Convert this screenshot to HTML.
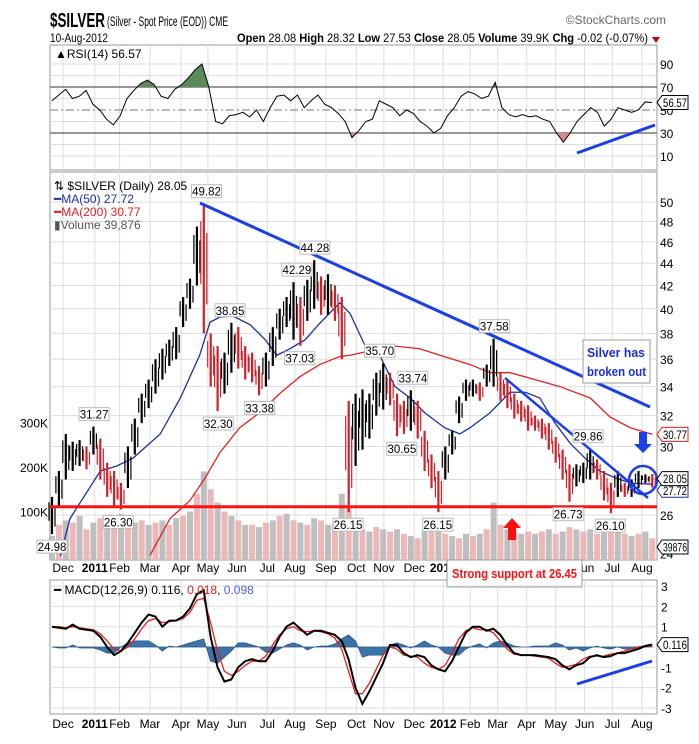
<!DOCTYPE html>
<html><head><meta charset="utf-8"><style>
body{margin:0;background:#fff;}
svg{display:block;font-family:"Liberation Sans Narrow","Liberation Sans",sans-serif;}
</style></head><body>
<svg id="c" width="699" height="744" viewBox="0 0 699 744" xmlns="http://www.w3.org/2000/svg">
<rect x="0" y="0" width="699" height="744" fill="#fff"/>
<text x="50" y="27" font-size="20" font-weight="bold" textLength="55" lengthAdjust="spacingAndGlyphs">$SILVER</text>
<text x="107" y="26" font-size="14" textLength="121" lengthAdjust="spacingAndGlyphs">(Silver - Spot Price (EOD)) CME</text>
<text x="666" y="24" font-size="12" fill="#666" text-anchor="end">©StockCharts.com</text>
<text x="50" y="42" font-size="12" textLength="58" lengthAdjust="spacingAndGlyphs">10-Aug-2012</text>
<text x="237" y="42" font-size="12" textLength="411" lengthAdjust="spacingAndGlyphs"><tspan font-weight="bold">Open</tspan> 28.08 <tspan font-weight="bold">High</tspan> 28.32 <tspan font-weight="bold">Low</tspan> 27.53 <tspan font-weight="bold">Close</tspan> 28.05 <tspan font-weight="bold">Volume</tspan> 39.9K <tspan font-weight="bold">Chg</tspan> -0.02 (-0.07%)</text>
<polygon points="652,37 660,37 656,43" fill="#c00"/>
<g id="g"></g>
</svg>
<script>
const highs=[27.0,28.5,30.8,30.3,30.4,30.0,31.27,30.5,29.0,28.5,27.8,30.0,31.8,33.5,34.5,36.0,36.8,37.5,38.5,41.0,42.6,47.5,49.82,38.0,37.0,36.5,38.85,38.5,37.0,36.5,35.5,36.5,38.5,40.0,41.0,42.29,41.0,42.5,44.28,42.8,43.0,42.0,41.0,33.0,33.5,33.8,33.5,35.0,35.70,35.0,33.5,33.0,33.74,33.0,31.0,29.5,28.5,30.0,31.0,33.3,34.5,34.5,34.3,35.6,37.58,35.0,34.5,33.5,33.0,32.7,32.0,31.8,31.5,30.6,29.8,28.9,28.9,29.0,29.86,29.2,28.5,27.8,28.5,27.8,28.0,28.5,28.3,28.32];
const lows=[24.98,26.5,28.0,28.5,28.8,28.6,29.5,28.0,27.0,26.5,26.30,27.5,29.5,31.5,32.5,33.5,34.5,35.5,36.0,38.5,40.0,42.0,38.0,34.0,32.30,33.5,35.0,35.3,34.5,34.3,33.38,34.0,35.5,37.5,38.5,37.5,37.03,39.0,40.0,39.5,39.5,39.0,36.0,26.15,28.8,29.8,30.5,32.0,32.4,32.7,30.65,30.8,31.0,30.5,28.5,27.5,26.15,28.0,29.5,31.5,33.0,33.3,33.0,34.0,34.0,33.0,32.5,31.8,31.6,31.0,31.0,30.5,29.8,29.0,28.0,26.73,27.6,27.8,28.0,28.0,26.8,26.10,27.0,27.0,27.0,27.5,27.8,27.53];
const volumes=[45,70,80,75,90,60,75,85,80,70,95,85,75,80,70,75,80,70,85,90,100,140,190,150,120,100,90,80,70,70,65,75,80,90,95,80,75,70,85,80,70,75,140,110,70,60,55,65,60,55,60,50,45,40,55,60,70,50,45,40,50,45,50,60,120,70,60,55,50,55,50,55,60,50,55,65,60,55,60,50,55,65,60,50,45,50,55,40];
const maWeeks=[2.6,7,9.4,11.8,15.7,18.6,21.4,22.9,24.3,26.2,28.7,30.9,32.6,34.5,36.7,38.8,41.7,43.2,45.4,47.5,49.7,51.9,54,56.9,59.1,60.6,63.5,66.4,68.6,70.7,72.9,75.1,77.2,79.4,81.6,83.8,87];
const ma50=[25.8,28.5,28.8,29.3,30.8,33.2,36.3,38.9,39.3,39.4,38.7,37.5,36.3,36.8,37.5,38.8,40.5,39.6,37.0,36.3,34.0,33.2,32.2,31.2,30.8,31.2,32.2,33.6,33.6,33.2,31.5,30.2,29.3,28.5,28.1,27.8,27.72];
const ma200Weeks=[14.2,17.1,20,22.2,24.3,27.2,30.1,33,35.9,38.8,41.7,43.2,47.5,49.7,53.3,56.2,60.6,63.5,66.4,69.3,73.6,78,80.9,83.8,87];
const ma200=[23.9,25.8,26.8,28.1,29.6,31.2,32.2,33.5,34.7,35.6,36.2,36.3,36.8,37.0,36.8,36.3,35.6,35.0,35.0,34.6,34.0,33.2,31.9,31.2,30.77];
const rsi=[58,63,68,60,62,67,55,50,42,37,45,60,67,73,76,72,62,60,68,72,78,85,90,70,40,38,45,46,48,44,50,40,52,62,63,58,63,52,58,63,55,52,47,40,26,32,40,42,58,55,52,45,50,47,40,36,30,34,45,52,62,66,64,60,62,74,52,46,44,46,44,45,42,40,30,22,30,40,46,52,48,36,42,52,50,48,50,57,56.57];
const macd=[1.0,0.95,0.9,1.1,0.9,0.85,0.8,0.5,0,-0.4,-0.2,0.2,0.7,1.2,1.6,1.5,1.0,1.3,1.3,1.5,1.9,2.6,2.8,0.5,-1.0,-1.7,-1.6,-1.0,-0.7,-0.6,-0.7,-0.7,-0.2,0.5,1.0,1.2,0.9,0.6,0.8,0.8,0.7,0.6,0.3,-0.6,-2.0,-2.8,-2.2,-1.5,-0.8,0.1,0.1,-0.3,-0.5,-0.4,-0.5,-0.9,-1.1,-1.2,-0.7,0.0,0.7,1.0,1.0,0.8,0.9,0.6,0.1,-0.3,-0.4,-0.4,-0.4,-0.45,-0.5,-0.6,-0.9,-1.1,-0.9,-0.8,-0.5,-0.4,-0.5,-0.45,-0.3,-0.3,-0.2,-0.1,0.05,0.116];
const signal=[1.0,1.0,0.95,1.0,0.95,0.9,0.85,0.65,0.3,-0.1,-0.2,0.0,0.4,0.9,1.3,1.4,1.2,1.25,1.3,1.4,1.7,2.3,2.4,1.2,-0.2,-1.2,-1.4,-1.2,-0.9,-0.7,-0.7,-0.45,0.1,0.6,0.9,1.0,0.8,0.75,0.8,0.75,0.65,0.45,-0.1,-1.2,-2.3,-2.3,-1.8,-1.1,-0.4,0.0,-0.1,-0.4,-0.45,-0.5,-0.8,-1.0,-1.1,-0.9,-0.3,0.4,0.8,0.95,0.85,0.85,0.7,0.3,-0.1,-0.35,-0.4,-0.4,-0.45,-0.5,-0.55,-0.8,-1.0,-0.95,-0.85,-0.6,-0.45,-0.45,-0.45,-0.35,-0.3,-0.2,-0.1,0.0,0.05,0.018];
const monthLabels=["Dec","2011","Feb","Mar","Apr","May","Jun","Jul","Aug","Sep","Oct","Nov","Dec","2012","Feb","Mar","Apr","May","Jun","Jul","Aug"];
const monthWeeks=[1.6,6.2,9.8,14.2,18.7,22.6,26.8,31.2,35.2,39.7,44.1,48.1,52.5,56.7,60.6,64.6,68.8,73,77.2,81.2,85.5];
const priceTicks=[24,26,28,30,32,34,36,38,40,42,44,46,48,50];
const volTicks=[100,200,300];
const rsiTicks=[10,30,50,70,90];
const macdTicks=[-3,-2,-1,0,1,2,3];
const highCallouts=[[49.82,22.4],[31.27,6.1],[38.85,25.8],[42.29,35.5],[44.28,38.1],[35.70,47.5],[33.74,52.3],[37.58,64.1],[29.86,77.7]];
const lowCallouts=[[24.98,0],[26.30,9.6],[32.30,24.1],[33.38,30.1],[37.03,35.9],[26.15,42.9],[30.65,50.7],[26.15,55.9],[26.73,74.8],[26.10,80.9]];

const NS="http://www.w3.org/2000/svg";
const G=document.getElementById('g');
function mk(tag,attrs,parent){const e=document.createElementNS(NS,tag);for(const k in attrs)e.setAttribute(k,attrs[k]);(parent||G).appendChild(e);return e;}
const L=50,R=657;
const xW=w=>52+w*6.9;
const yP=p=>202+(Math.log(50)-Math.log(p))*478.6;
const yV=k=>556-k*0.445;
const yR=v=>133-(v-30)*1.15;
const yM=v=>647-v*20.3;
const xI=(i,n)=>52+i*(600/(n-1));

[[45,170,'rsi-panel'],[172,560,'price-panel'],[580,714,'macd-panel']].forEach(p=>{
  const r=mk('rect',{x:L,y:p[0],width:R-L,height:p[1]-p[0],fill:'#fff',stroke:'#999'});
  
  
  monthWeeks.forEach(w=>{const l=mk('line',{x1:xW(w),x2:xW(w),y1:p[0],y2:p[1],stroke:'#ddd'});
    
    });
});
for(let v=10;v<=90;v+=10){const l=mk('line',{x1:L,x2:R,y1:yR(v),y2:yR(v),stroke:(v==30||v==70)?'#777':'#ddd','stroke-width':(v==30||v==70)?1.5:1});
  if(v==50){l.setAttribute('stroke','#777');l.setAttribute('stroke-dasharray','8,3,2,3');}
  
  }
rsiTicks.forEach(v=>{const t=mk('text',{x:R+3,y:yR(v)+5,'font-size':12});t.textContent=v;
  
  });
const defs=mk('defs',{});
const c1=mk('clipPath',{id:'ab'},defs);mk('rect',{x:L,y:45,width:R-L,height:yR(70)-45},c1);
const c2=mk('clipPath',{id:'be'},defs);mk('rect',{x:L,y:yR(30),width:R-L,height:170-yR(30)},c2);
let rp=rsi.map((v,i)=>xI(i,rsi.length)+','+yR(v)).join(' ');
const fa=mk('polygon',{points:xI(0,rsi.length)+','+yR(70)+' '+rp+' '+xI(rsi.length-1,rsi.length)+','+yR(70),fill:'#5a8a5a','clip-path':'url(#ab)'});


const fb=mk('polygon',{points:xI(0,rsi.length)+','+yR(30)+' '+rp+' '+xI(rsi.length-1,rsi.length)+','+yR(30),fill:'#d88','clip-path':'url(#be)'});


const rl=mk('polyline',{points:rp,fill:'none',stroke:'#000','stroke-width':1});


const rt=mk('text',{x:55,y:58,'font-size':12});rt.textContent='▲RSI(14) 56.57';


const rtl=mk('line',{x1:577,y1:153,x2:655,y2:125,stroke:'#1a3ee8','stroke-width':3});



priceTicks.forEach(p=>{const l=mk('line',{x1:L,x2:R,y1:yP(p),y2:yP(p),stroke:'#ddd'});
  
  
  if(p==28)return;
  const t=mk('text',{x:R+3,y:yP(p)+5,'font-size':12});t.textContent=p;
  
  });
volTicks.forEach(k=>{const t=mk('text',{x:L-2,y:yV(k)+5,'font-size':12,'text-anchor':'end'});t.textContent=k+'K';
  
  });
volumes.forEach((k,i)=>{const r=mk('rect',{x:xW(i)-3,y:yV(k),width:6,height:yV(0)-yV(k)+4,fill:i%2?'#eab0b0':'#b8b8b8',opacity:0.9});
  
  });
const m2=mk('polyline',{points:ma200.map((v,i)=>xW(ma200Weeks[i])+','+Math.min(556,yP(v))).join(' '),fill:'none',stroke:'#e52020','stroke-width':1.3});


const m1=mk('polyline',{points:xW(1.2)+','+556+' '+ma50.map((v,i)=>xW(maWeeks[i])+','+yP(v)).join(' '),fill:'none',stroke:'#2030a0','stroke-width':1.3});


highs.forEach((h,i)=>{const lo=lows[i];const mid=(h+lo)/2;const pm=i?(highs[i-1]+lows[i-1])/2:mid;
  const col=mid<pm?'#d0202a':'#000';
  const b=mk('line',{x1:xW(i),x2:xW(i),y1:yP(h),y2:yP(lo),stroke:col,'stroke-width':2.2});
  
  
  const b2=mk('line',{x1:xW(i)+3,x2:xW(i)+3,y1:yP(h-(h-lo)*0.25),y2:yP(lo+(h-lo)*0.2),stroke:col,'stroke-width':1.2});
  
  
  const b3=mk('line',{x1:xW(i)-3,x2:xW(i)-3,y1:yP(h-(h-lo)*0.15),y2:yP(lo+(h-lo)*0.35),stroke:col,'stroke-width':1.2});
  
  });
const sl=mk('line',{x1:L,x2:R,y1:yP(26.45),y2:yP(26.45),stroke:'#ff1010','stroke-width':3});


const t1=mk('line',{x1:200,y1:203,x2:650,y2:407,stroke:'#1a3ee8','stroke-width':3});


const t2=mk('line',{x1:505,y1:378,x2:648,y2:498,stroke:'#1a3ee8','stroke-width':2.5});


function callout(v,w,above){const x=xW(w);const y=yP(v);const s=v.toFixed(2);
  const by=above?y-19:y+6;
  const g=mk('g',{});
  
  
  mk('rect',{x:x-15,y:by,width:30,height:13,fill:'#fff',stroke:'#bbb'},g);
  const t=mk('text',{x:x,y:by+11,'font-size':11.5,'text-anchor':'middle'},g);t.textContent=s;}
highCallouts.forEach(c=>callout(c[0],c[1],true));
lowCallouts.forEach(c=>callout(c[0],c[1],false));
[['⇅ $SILVER (Daily) 28.05','#000',190,'price-legend'],['━MA(50) 27.72','#2030a0',203,'ma50-legend'],['━MA(200) 30.77','#e52020',216,'ma200-legend'],['▮Volume 39,876','#555',229,'volume-legend']].forEach(a=>{
  const t=mk('text',{x:54,y:a[2],'font-size':12,fill:a[1]});t.textContent=a[0];
  
  });
const ab=mk('g',{});


mk('rect',{x:583,y:340,width:67,height:43,fill:'#fff',stroke:'#999'},ab);
let t=mk('text',{x:587,y:357,'font-size':13,'font-weight':'bold',fill:'#1a2ee0','textLength':58,'lengthAdjust':'spacingAndGlyphs'},ab);t.textContent='Silver has';
t=mk('text',{x:587,y:376,'font-size':13,'font-weight':'bold',fill:'#1a2ee0','textLength':59,'lengthAdjust':'spacingAndGlyphs'},ab);t.textContent='broken out';
const da=mk('polygon',{points:'639,432 647,432 647,444 652,444 643,453 634,444 639,444',fill:'#1a3ee8'});


const ci=mk('circle',{cx:643,cy:480,r:14,fill:'none',stroke:'#1a3ee8','stroke-width':2.5});


const ua=mk('polygon',{points:'508,540 516,540 516,528 521,528 512,518 503,528 508,528',fill:'#ff1010'});


function rbox(y,txt,col,name){const g=mk('g',{});
  
  
  mk('polygon',{points:`${R},${y} ${R+5},${y-7} ${R+31},${y-7} ${R+31},${y+7} ${R+5},${y+7}`,fill:'#fff',stroke:col},g);
  const t=mk('text',{x:R+6,y:y+4.5,'font-size':12,'textLength':24,'lengthAdjust':'spacingAndGlyphs',fill:'#000'},g);t.textContent=txt;}
rbox(yR(56.57),'56.57','#000','rsi-value-box');
rbox(yP(27.72)+6,'27.72','#2030a0','ma50-value-box');
rbox(yP(30.77),'30.77','#e52020','ma200-value-box');
rbox(yP(28.05),'28.05','#000','price-value-box');
rbox(547,'39876','#000','volume-value-box');
rbox(yM(0.116),'0.116','#000','macd-value-box');
[572,728].forEach(y=>monthLabels.forEach((m,i)=>{const tx=mk('text',{x:xW(monthWeeks[i]),y:y,'font-size':12,'text-anchor':'middle','font-weight':m.length==4?'bold':'normal'});tx.textContent=m;
  
  }));
const sb=mk('g',{});


mk('rect',{x:447,y:560,width:135,height:27,fill:'#fff',stroke:'#999'},sb);
t=mk('text',{x:452,y:578,'font-size':13,'font-weight':'bold',fill:'#ff1010','textLength':125,'lengthAdjust':'spacingAndGlyphs'},sb);t.textContent='Strong support at 26.45';
macdTicks.forEach(v=>{const l=mk('line',{x1:L,x2:R,y1:yM(v),y2:yM(v),stroke:'#ddd'});
  
  
  if(v==0)return;
  const tx=mk('text',{x:R+4,y:yM(v)+5,'font-size':12});tx.textContent=v;
  
  });
const hp=macd.map((v,i)=>xI(i,macd.length)+','+yM(v-signal[i])).join(' ');
const hi=mk('polygon',{points:xI(0,macd.length)+','+yM(0)+' '+hp+' '+xI(macd.length-1,macd.length)+','+yM(0),fill:'#3a74a8',stroke:'#2a5a90','stroke-width':0.8});


const sg=mk('polyline',{points:signal.map((v,i)=>xI(i,signal.length)+','+yM(v)).join(' '),fill:'none',stroke:'#e52020','stroke-width':1.3});


const ml=mk('polyline',{points:macd.map((v,i)=>xI(i,macd.length)+','+yM(v)).join(' '),fill:'none',stroke:'#000','stroke-width':2});


const mt=mk('text',{x:54,y:594,'font-size':12});
mt.innerHTML='━ MACD(12,26,9) 0.116, <tspan fill="#e52020">0.018</tspan>, <tspan fill="#5060e0">0.098</tspan>';


const mtl=mk('line',{x1:577,y1:684,x2:652,y2:661,stroke:'#1a3ee8','stroke-width':3});


</script>
</body></html>
